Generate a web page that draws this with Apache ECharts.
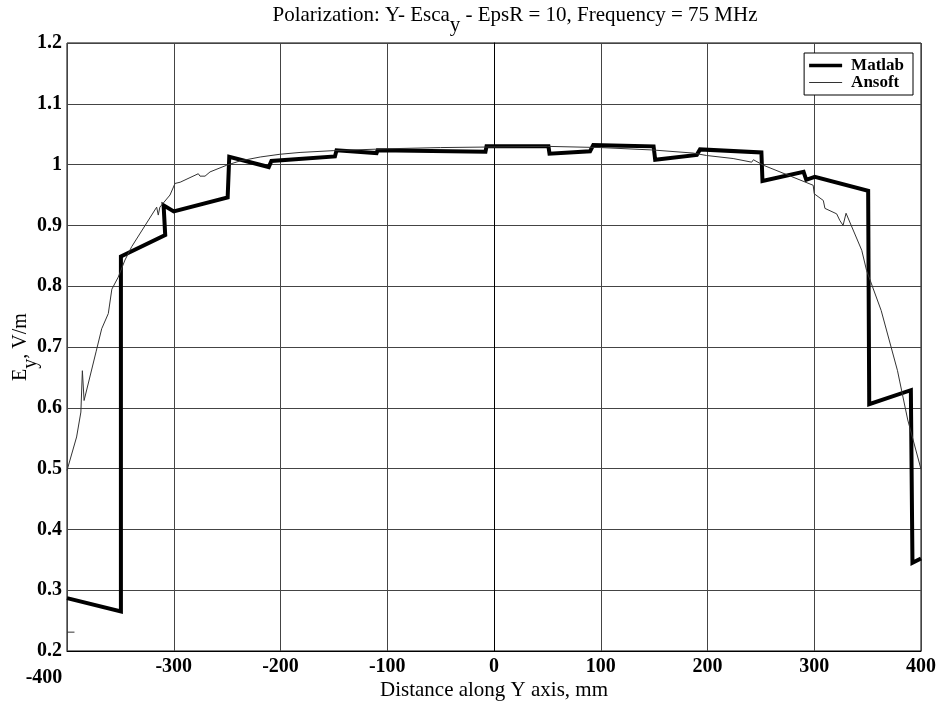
<!DOCTYPE html>
<html>
<head>
<meta charset="utf-8">
<script src="https://cdn.jsdelivr.net/npm/echarts@6/dist/echarts.min.js"></script>
<style>html,body{margin:0;padding:0;background:#fff;}#c{width:938px;height:705px;}</style>
</head>
<body>
<div id="c"></div>
<script>
var xTicks = [-400, -300, -200, -100, 0, 100, 200, 300, 400];
var yTicks = [0.2, 0.3, 0.4, 0.5, 0.6, 0.7, 0.8, 0.9, 1, 1.1, 1.2];

var matlabX = [-400, -349.5, -349.5, -308, -309.5, -300, -249.5, -248, -211, -208.5, -149, -147.5, -110, -109, -8, -7, 51, 52, 90, 93, 149.5, 151, 190, 193, 250.5, 251.5, 290, 292.5, 300.5, 350.5, 351.5, 390.5, 392, 400];
var matlabY = [0.287, 0.265, 0.849, 0.884, 0.933, 0.923, 0.946, 1.013, 0.996, 1.006, 1.0135, 1.0235, 1.019, 1.0235, 1.021, 1.030, 1.030, 1.018, 1.022, 1.032, 1.030, 1.008, 1.016, 1.025, 1.020, 0.973, 0.988, 0.975, 0.980, 0.957, 0.606, 0.629, 0.345, 0.352];

var ansoftX = [-400, -391, -387, -385.6, -384, -372.8, -367.5, -361.3, -358, -352, -345.7, -339.4, -316, -314.5, -313, -303.5, -298.8, -294, -277, -275.4, -270.7, -266, -250.4, -238, -219, -200.5, -181.7, -150, -100, -50, 0, 50, 100, 149, 186.5, 199, 224, 241.4, 243, 252.3, 299, 300, 308.5, 310, 321, 324, 327, 329.8, 344.5, 349, 362.7, 378, 380, 387.6, 400];
var ansoftY = [0.497, 0.552, 0.593, 0.661, 0.612, 0.692, 0.73, 0.755, 0.795, 0.815, 0.843, 0.865, 0.93, 0.917, 0.93, 0.95, 0.969, 0.971, 0.985, 0.981, 0.981, 0.988, 0.999, 1.006, 1.0125, 1.017, 1.02, 1.023, 1.026, 1.028, 1.029, 1.03, 1.028, 1.024, 1.019, 1.015, 1.01, 1.004, 1.008, 0.999, 0.966, 0.952, 0.941, 0.928, 0.919, 0.908, 0.9, 0.92, 0.859, 0.826, 0.76, 0.661, 0.644, 0.58, 0.499];

var stubX = [-400, -393];
var stubY = [0.231, 0.231];

function zip(a, b) { return a.map(function (v, i) { return [v, b[i]]; }); }

var FONT = '"Liberation Serif", "DejaVu Serif", serif';
var chart = echarts.init(document.getElementById('c'), null, { renderer: 'canvas' });
chart.setOption({
  animation: false,
  backgroundColor: '#fff',
  title: {
    text: '{a|Polarization: Y- Esca}{s|y}{a| - EpsR = 10, Frequency = 75 MHz}',
    left: 510, top: 0, textAlign: 'center',
    textStyle: {
      fontWeight: 'normal',
      rich: {
        a: { fontFamily: FONT, fontSize: 21, fontWeight: 'normal', color: '#000', verticalAlign: 'top', lineHeight: 21 },
        s: { fontFamily: FONT, fontSize: 21, fontWeight: 'normal', color: '#000', verticalAlign: 'bottom', lineHeight: 31 }
      }
    }
  },
  legend: {
    right: 25, top: 53, orient: 'vertical', align: 'left',
    backgroundColor: '#fff', borderColor: '#000', borderWidth: 1,
    padding: [4, 9, 4, 5], itemGap: 0, itemWidth: 33, itemHeight: 12,
    textStyle: { fontFamily: FONT, fontSize: 17, fontWeight: 'bold', color: '#000', lineHeight: 16, padding: [0, 0, 0, 4] },
    data: [
      { name: 'Matlab', icon: 'path://M0,0H33V3.5H0Z' },
      { name: 'Ansoft', icon: 'path://M0,0H33V1H0Z' }
    ]
  },
  grid: { left: 67, right: 17, top: 43, bottom: 54, show: true, borderColor: '#000', borderWidth: 1, containLabel: false, outerBoundsMode: 'none' },
  xAxis: {
    type: 'value', min: -400, max: 400, interval: 100,
    name: 'Distance along Y axis, mm', nameLocation: 'middle', nameGap: 29, nameMoveOverlap: false,
    nameTextStyle: { fontFamily: FONT, fontSize: 21, color: '#000' },
    axisLine: { show: true, lineStyle: { color: '#000' } },
    axisTick: { show: false },
    axisLabel: {
      margin: 6, color: '#000',
      formatter: function (v) { return v === xTicks[0] ? '{low|' + v + '}' : '{n|' + v + '}'; },
      rich: {
        n: { fontFamily: FONT, fontSize: 20, fontWeight: 'bold', color: '#000' },
        low: { fontFamily: FONT, fontSize: 20, fontWeight: 'bold', color: '#000', padding: [11, 46, 0, 0] }
      }
    },
    splitLine: { show: true, lineStyle: { color: '#444', width: 1 } }
  },
  yAxis: {
    type: 'value', min: 0.2, max: 1.2, interval: 0.1,
    name: '{a|E}{s|y}{a|, V/m}', nameLocation: 'middle', nameGap: 26, nameRotate: 90, nameMoveOverlap: false,
    nameTextStyle: {
      rich: {
        a: { fontFamily: FONT, fontSize: 20, color: '#000', verticalAlign: 'top', lineHeight: 20 },
        s: { fontFamily: FONT, fontSize: 20, color: '#000', verticalAlign: 'bottom', lineHeight: 30 }
      }
    },
    axisLine: { show: true, lineStyle: { color: '#000' } },
    axisTick: { show: false },
    axisLabel: {
      margin: 5, fontFamily: FONT, fontSize: 20, fontWeight: 'bold', color: '#000',
      formatter: function (v) { return String(Math.round(v * 10) / 10); }
    },
    splitLine: { show: true, lineStyle: { color: '#444', width: 1 } }
  },
  series: [
    {
      name: 'Matlab', type: 'line', data: zip(matlabX, matlabY), symbol: 'none',
      lineStyle: { color: '#000', width: 4, join: 'miter' }, itemStyle: { color: '#000' }, z: 3
    },
    {
      name: 'Ansoft', type: 'line', data: zip(ansoftX, ansoftY), symbol: 'none',
      lineStyle: { color: '#333', width: 1 }, itemStyle: { color: '#333' }, z: 4
    },
    {
      name: 'stub', type: 'line', data: zip(stubX, stubY), symbol: 'none',
      lineStyle: { color: '#333', width: 1 }, itemStyle: { color: '#333' }, z: 4
    }
  ]
});
</script>
</body>
</html>
